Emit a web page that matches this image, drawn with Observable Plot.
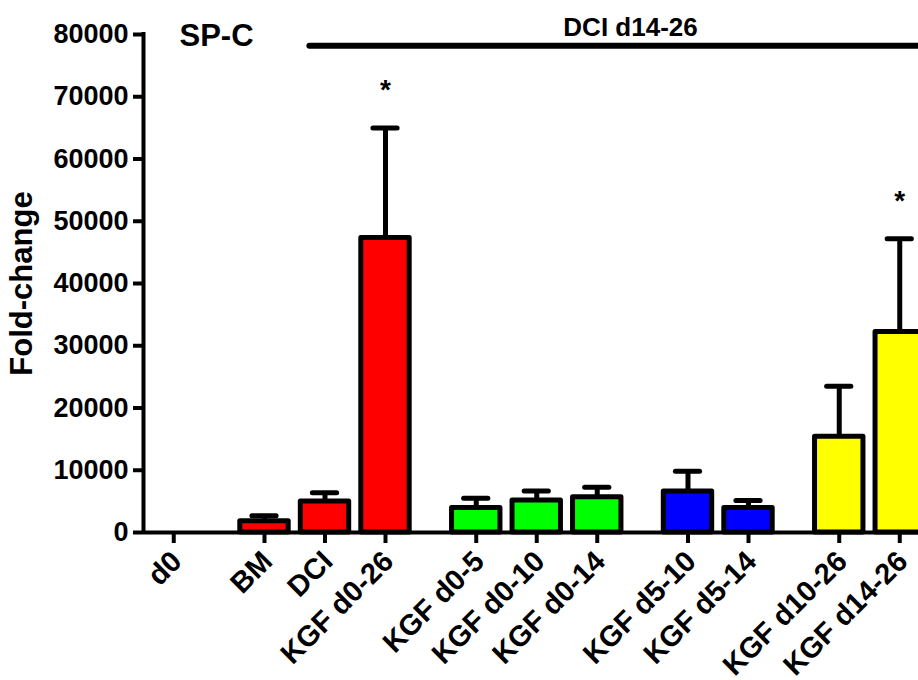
<!DOCTYPE html>
<html><head><meta charset="utf-8">
<script src="https://cdn.jsdelivr.net/npm/d3@7"></script>
<script src="https://cdn.jsdelivr.net/npm/@observablehq/plot@0.6"></script>
<style>
html,body{margin:0;padding:0;background:#fff;overflow:hidden;}
#chart svg{overflow:hidden;display:block;}
</style></head><body><div id="chart"></div>
<script>
const categories = ["d0","BM","DCI","KGF d0-26","KGF d0-5","KGF d0-10","KGF d0-14","KGF d5-10","KGF d5-14","KGF d10-26","KGF d14-26"];
const groups = [0,1,1,1,2,2,2,3,3,4,4];
const means = [0,1800,5000,47300,3950,5150,5650,6600,3950,15400,32200];
const sem = [0,900,1400,17700,1550,1500,1600,3250,1200,8100,15000];
const significance = ["","","","*","","","","","","","*"];
const groupColors = ["#ffffff","#ff0000","#00ff00","#0000ff","#ffff00"];
const yTicks = [0,10000,20000,30000,40000,50000,60000,70000,80000];
const yLabel = "Fold-change";
const panelLabel = "SP-C";
const bracketLabel = "DCI d14-26";
const bracketFrom = "DCI";
const bracketTo = "KGF d14-26";
const bracketLevel = 78200;

const rows = categories.map((c,i)=>({name:c, pos:i+0.5*groups[i], mean:means[i], sem:sem[i], sig:significance[i], color:groupColors[groups[i]]}));
const bars = rows.filter(d=>d.mean>0);
const posOf = n => rows.find(d=>d.name===n).pos;
const bracket = [{x1:posOf(bracketFrom)-0.25, x2:posOf(bracketTo)+0.85, y:bracketLevel, label:bracketLabel}];
const xDomain = [-0.5, 12.31];
const font = "'Liberation Sans', Arial, Helvetica, sans-serif";

const chart = Plot.plot({
  width:918, height:680,
  marginLeft:143, marginRight:0, marginTop:34, marginBottom:148,
  style:{fontFamily:font, background:"white", color:"black", overflow:"hidden"},
  x:{type:"linear", domain:xDomain},
  y:{domain:[0,80000]},
  color:{type:"identity"},
  marks:[
    Plot.ruleX(bars, {x:"pos", y1:"mean", y2:d=>d.mean+d.sem, strokeWidth:5}),
    Plot.ruleY(bars, {x1:d=>d.pos-0.2, x2:d=>d.pos+0.2, y:d=>d.mean+d.sem, strokeWidth:5, strokeLinecap:"round"}),
    Plot.rect(bars, {x1:d=>d.pos-0.4, x2:d=>d.pos+0.4, y1:0, y2:"mean", fill:d=>d.color, stroke:"black", strokeWidth:5, strokeLinejoin:"round"}),
    Plot.ruleY([0], {strokeWidth:4}),
    Plot.ruleX([xDomain[0]], {y1:0, y2:80000, strokeWidth:4, strokeLinecap:"square"}),
    Plot.axisY({ticks:yTicks, tickSize:10, tickPadding:5, tickFormat:d=>String(d), fontSize:27, fontWeight:"bold", strokeWidth:4, label:null}),
    Plot.axisX({ticks:rows.map(d=>d.pos), tickSize:11, strokeWidth:4, tickFormat:()=>"", label:null}),
    Plot.text(rows, {x:"pos", y:0, text:"name", rotate:-45, textAnchor:"end", lineAnchor:"middle", dx:3, dy:24, fontSize:29, fontWeight:"bold"}),
    Plot.text([yLabel], {frameAnchor:"left", dx:-121, rotate:-90, textAnchor:"middle", text:d=>d, fontSize:31, fontWeight:"bold"}),
    Plot.text([panelLabel], {frameAnchor:"top-left", dx:36, dy:2, textAnchor:"start", lineAnchor:"middle", text:d=>d, fontSize:31, fontWeight:"bold"}),
    Plot.ruleY(bracket, {x1:"x1", x2:"x2", y:"y", strokeWidth:6, strokeLinecap:"round"}),
    Plot.text(bracket, {x:d=>(d.x1+d.x2)/2, y:"y", text:"label", dy:-18, lineAnchor:"middle", fontSize:26, fontWeight:"bold"}),
    Plot.text(rows.filter(d=>d.sig), {x:"pos", y:d=>d.mean+d.sem, text:"sig", dy:-38, lineAnchor:"middle", fontSize:28, fontWeight:"bold"})
  ]
});
document.getElementById("chart").appendChild(chart);
</script></body></html>
